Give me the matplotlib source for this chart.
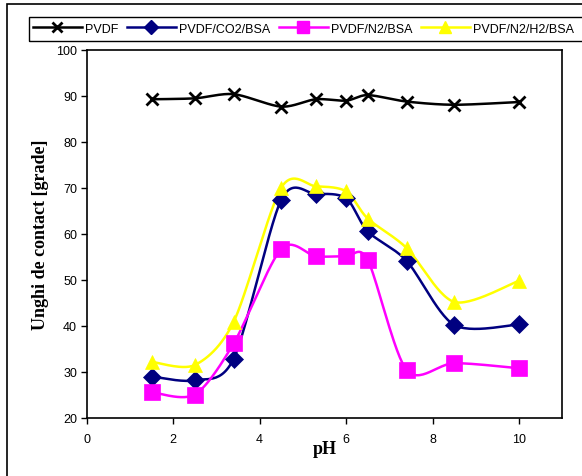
import numpy as np
import matplotlib.pyplot as plt
from matplotlib.patches import Rectangle
from matplotlib.lines import Line2D

# dati
ph = [1.5, 2.5, 3.4, 4.5, 5.3, 6.0, 6.5, 7.4, 8.5, 10.0]
pvdf = [89.2, 89.4, 90.3, 87.6, 89.2, 88.9, 90.1, 88.7, 88.0, 88.6]
pvdf_co2 = [29.0, 28.2, 32.9, 67.4, 68.6, 67.7, 60.5, 54.1, 40.2, 40.3]
pvdf_n2 = [25.6, 25.1, 36.2, 56.7, 55.1, 55.1, 54.3, 30.4, 31.9, 30.8]
pvdf_n2h2 = [32.2, 31.5, 40.9, 70.0, 70.3, 69.2, 63.3, 56.9, 45.2, 49.8]

labels = ['PVDF', 'PVDF/CO2/BSA', 'PVDF/N2/BSA', 'PVDF/N2/H2/BSA']
colors = ['black', '#000080', '#FF00FF', '#FFFF00']
markers = ['x', 'D', 's', '^']
msizes = [8.5, 9, 11, 10.5]


def smooth(x, y, n=30, k=1 / 7):
    # curva tipo Excel (Bezier)
    p = np.column_stack([x, y]).astype(float)
    p = np.vstack([p[0], p, p[-1]])
    t = np.linspace(0, 1, n)[:, None]
    out = []
    for i in range(1, len(p) - 2):
        p0, p1, p2, p3 = p[i - 1], p[i], p[i + 1], p[i + 2]
        c1 = p1 + (p2 - p0) * k
        c2 = p2 - (p3 - p1) * k
        seg = ((1 - t) ** 3) * p1 + 3 * ((1 - t) ** 2) * t * c1 + 3 * (1 - t) * t ** 2 * c2 + t ** 3 * p2
        out.append(seg)
    out = np.vstack(out)
    return out[:, 0], out[:, 1]


fig = plt.figure(figsize=(5.82, 4.77), dpi=100)
ax = fig.add_axes([86.7 / 582, 1 - 419 / 477, (562.3 - 86.7) / 582, (419 - 50.5) / 477])

series = [pvdf, pvdf_co2, pvdf_n2, pvdf_n2h2]
handles = []
for k in range(4):
    sx, sy = smooth(ph, series[k])
    ax.plot(sx, sy, '-', color=colors[k], lw=1.8, zorder=2)
    if markers[k] == 'x':
        ax.plot(ph, series[k], 'x', color=colors[k], ms=msizes[k], mew=2, zorder=3)
        h = Line2D([], [], color=colors[k], lw=1.8, marker='x', ms=msizes[k] * 0.9, mew=2)
    else:
        ax.plot(ph, series[k], markers[k], color=colors[k], ms=msizes[k], mew=0.5, mec=colors[k], zorder=3)
        h = Line2D([], [], color=colors[k], lw=1.8, marker=markers[k], ms=msizes[k] * 0.8, mec=colors[k])
    handles.append(h)

ax.set_xlim(0, 11)
ax.set_ylim(20, 100)
ax.set_xticks([0, 2, 4, 6, 8, 10])
ax.set_yticks(range(20, 101, 10))
for s in ax.spines.values():
    s.set_linewidth(1.2)
ax.tick_params(axis='both', direction='out', length=4, width=1, labelsize=9)
ax.tick_params(axis='x', pad=7)
ax.tick_params(axis='y', pad=3)
for lab in ax.get_xticklabels() + ax.get_yticklabels():
    lab.set_family('Liberation Sans')

ax.set_xlabel('pH', family='Liberation Serif', weight='bold', fontsize=13, labelpad=-4)
ax.set_ylabel('Unghi de contact [grade]', family='Liberation Serif', weight='bold', fontsize=13, labelpad=5)

leg = fig.legend(handles, labels, loc='center left', bbox_to_anchor=(33 / 582, 1 - 29.8 / 477),
                 ncol=4, frameon=False, borderpad=0, borderaxespad=0, handlelength=3.9,
                 handletextpad=0.25, columnspacing=0.7, prop={'family': 'Liberation Sans', 'size': 9})

# cornici
fig.patches.append(Rectangle((29 / 582, 1 - 41.5 / 477), 600 / 582, 23.5 / 477, transform=fig.transFigure,
                             fill=False, ec='black', lw=1.0, figure=fig))
fig.patches.append(Rectangle((7 / 582, -0.05), 1.1, 1 - 5 / 477 + 0.05, transform=fig.transFigure,
                             fill=False, ec='black', lw=1.2, figure=fig))

fig.savefig('out.png', dpi=100)
